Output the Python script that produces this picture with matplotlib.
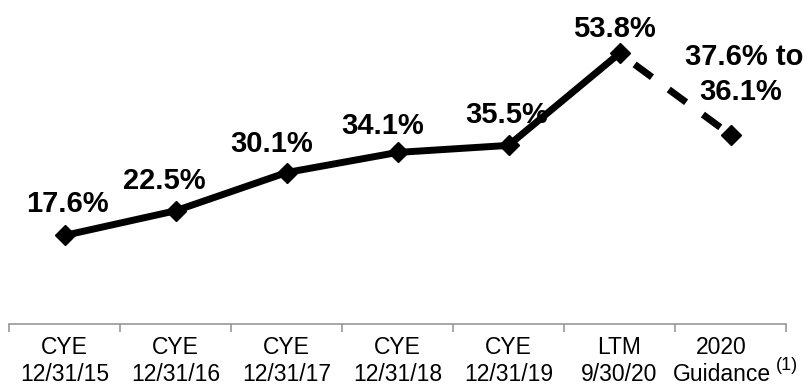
import matplotlib
matplotlib.use("Agg")
import matplotlib.pyplot as plt
import matplotlib.transforms as mtransforms

plt.rcParams['font.family'] = ['Liberation Sans', 'DejaVu Sans']

categories = ["CYE\n12/31/15", "CYE\n12/31/16", "CYE\n12/31/17", "CYE\n12/31/18",
              "CYE\n12/31/19", "LTM\n9/30/20", "2020\nGuidance"]
actual = [17.6, 22.5, 30.1, 34.1, 35.5, 53.8]
guide_hi = 37.6
guide_lo = 36.1

# label offsets in pixels (x, baseline y) relative to the marker
label_offsets = [(3, 23), (-11, 22), (-15, 21), (-15, 18), (-2, 22), (-5, 16)]

fig = plt.figure(figsize=(8.1, 3.86), dpi=100)
ax = fig.add_axes([9 / 810, 62 / 386, 777 / 810, 324 / 386])

xs = list(range(len(actual)))
ax.plot(xs, actual, color='black', lw=5, marker='D', ms=10, solid_joinstyle='miter', zorder=3)
# dashed segment to guidance
ax.plot([xs[-1], xs[-1] + 1], [actual[-1], guide_hi], color='black', lw=5,
        linestyle=(3.4, (3.1, 3.0)), dash_capstyle='butt', zorder=2)
ax.plot([xs[-1] + 1], [guide_hi], color='black', marker='D', ms=10, lw=0, zorder=3)

for x, v, (dx, dy) in zip(xs, actual, label_offsets):
    ax.annotate(f"{v}%", (x, v), xytext=(dx, dy), textcoords='offset pixels',
                ha='center', va='baseline', fontsize=21, fontweight='bold')

gx = xs[-1] + 1
ax.annotate(f"{guide_hi}% to", (gx, guide_hi), xytext=(14, 70), textcoords='offset pixels',
            ha='center', va='baseline', fontsize=21, fontweight='bold')
ax.annotate(f"{guide_lo}%", (gx, guide_hi), xytext=(10, 35), textcoords='offset pixels',
            ha='center', va='baseline', fontsize=21, fontweight='bold')

ax.set_xlim(-0.5, len(categories) - 0.5)
ax.set_ylim(0, 64.4)

for s in ['left', 'top', 'right']:
    ax.spines[s].set_visible(False)
ax.spines['bottom'].set_color('#8f8f8f')
ax.spines['bottom'].set_linewidth(1.1)

ax.set_yticks([])
ax.set_xticks([i - 0.5 for i in range(len(categories) + 1)])
ax.set_xticklabels([])
ax.tick_params(axis='x', which='major', length=5.8, width=1.1, color='#8f8f8f', direction='out')
ax.set_xticks(range(len(categories)), minor=True)
ax.set_xticklabels(categories, minor=True, fontsize=16.5)
ax.tick_params(axis='x', which='minor', length=0, pad=9)

last = ax.get_xticklabels(minor=True)[-1]
last.set_transform(last.get_transform() + mtransforms.ScaledTranslation(-9 / 100, 0, fig.dpi_scale_trans))
fig.text(787 / 810, 1 - 365 / 386, "(1)", fontsize=13, ha='center', va='center')

fig.savefig("out.png", dpi=100)
